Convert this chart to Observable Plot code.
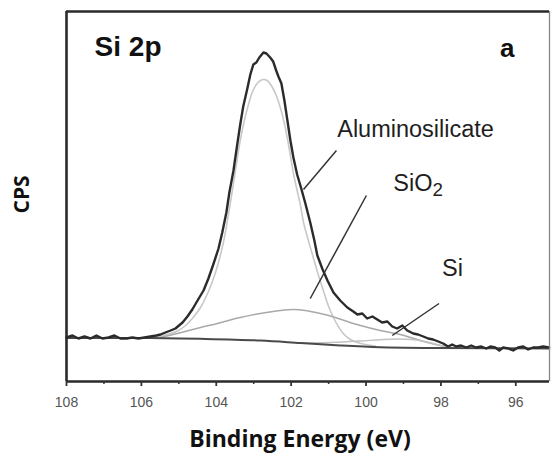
<!DOCTYPE html>
<html>
<head>
<meta charset="utf-8">
<script src="https://cdn.jsdelivr.net/npm/d3@7"></script>
<script src="https://cdn.jsdelivr.net/npm/@observablehq/plot@0.6"></script>
<style>
  html, body { margin: 0; padding: 0; background: #fff; }
  #chart svg { display: block; }
  g[aria-label="x-axis tick label"] text { fill: #555; }
</style>
</head>
<body>
<div id="chart"></div>
<script>
// Axis domains and ticks
const energyDomain = [108, 95.1];
const cpsDomain = [0, 37];
const majorTicks = [108, 106, 104, 102, 100, 98, 96];
const minorTicks = [107, 105, 103, 101, 99, 97];

// Measured envelope (raw data): [binding energy (eV), CPS (arb. x1000)]
const envelope = [
  [108.00,4.4],[107.84,4.6],[107.68,4.3],[107.52,4.5],[107.36,4.3],[107.20,4.6],[107.04,4.3],
  [106.88,4.4],[106.72,4.6],[106.56,4.3],[106.40,4.3],[106.24,4.4],[106.08,4.3],[105.92,4.4],
  [105.76,4.5],[105.60,4.6],[105.49,4.7],[105.36,4.9],[105.22,5.1],[105.09,5.3],[104.90,5.9],
  [104.77,6.5],[104.64,7.2],[104.50,8.1],[104.34,9.1],[104.21,10.3],[104.08,11.7],[103.94,13.3],
  [103.84,14.9],[103.73,16.9],[103.65,18.9],[103.54,21.1],[103.44,23.7],[103.36,25.7],[103.28,27.5],
  [103.17,29.3],[103.09,30.7],[103.01,31.7],[102.93,31.9],[102.85,32.4],[102.74,32.9],[102.66,32.8],
  [102.56,32.4],[102.48,32.0],[102.40,31.1],[102.34,30.5],[102.26,29.8],[102.18,28.1],[102.10,26.1],
  [102.02,24.1],[101.94,22.4],[101.84,20.7],[101.73,19.3],[101.62,17.8],[101.49,15.9],[101.38,14.1],
  [101.30,12.6],[101.17,11.3],[101.03,10.1],[100.87,8.9],[100.69,8.1],[100.50,7.4],[100.34,7.0],
  [100.23,6.7],[100.10,6.8],[99.97,6.3],[99.83,6.5],[99.70,6.2],[99.57,5.9],[99.43,6.0],[99.30,5.5],
  [99.17,5.3],[99.03,5.6],[98.90,5.1],[98.74,4.8],[98.61,4.7],[98.47,4.5],[98.34,4.3],[98.21,4.2],
  [98.07,4.0],[97.94,3.8],[97.81,3.5],[97.70,3.7],[97.59,3.5],[97.46,3.6],[97.32,3.4],[97.19,3.6],
  [97.06,3.4],[96.92,3.5],[96.79,3.3],[96.68,3.5],[96.55,3.4],[96.44,3.1],[96.34,3.4],[96.20,3.3],
  [96.07,3.1],[95.94,3.4],[95.80,3.5],[95.67,3.2],[95.54,3.4],[95.40,3.4],[95.27,3.5],[95.11,3.4]
];

// Fitted components
const aluminosilicate = [
  [105.76,4.4],[105.49,4.55],[105.22,4.8],[105.01,5.1],[104.82,5.6],[104.64,6.3],[104.42,7.4],
  [104.21,9.0],[104.02,10.9],[103.81,13.9],[103.68,16.6],[103.57,19.1],[103.46,21.8],[103.36,24.1],
  [103.25,26.1],[103.14,27.7],[103.04,28.9],[102.93,29.7],[102.82,30.1],[102.74,30.2],[102.64,30.1],
  [102.53,29.6],[102.42,28.8],[102.29,27.4],[102.18,25.8],[102.10,24.3],[102.02,22.6],[101.94,20.8],
  [101.84,19.1],[101.75,17.6],[101.67,15.9],[101.54,14.1],[101.41,12.4],[101.27,10.6],[101.14,9.1],
  [101.01,7.6],[100.87,6.4],[100.74,5.5],[100.61,4.8],[100.42,4.2],[100.23,3.9],[100.02,3.7],[99.75,3.55]
];
const sio2 = [
  [105.49,4.4],[105.04,4.8],[104.42,5.4],[103.97,5.8],[103.36,6.4],[102.82,6.8],[102.29,7.1],
  [101.94,7.2],[101.62,7.1],[101.22,6.8],[100.82,6.4],[100.50,6.0],[100.15,5.6],[99.62,5.1],
  [99.09,4.7],[98.55,4.1],[98.02,3.6],[97.62,3.35]
];
const si = [
  [101.75,3.85],[100.95,3.9],[100.15,4.05],[99.62,4.18],[99.17,4.25],[98.77,4.2],[98.42,4.0],
  [98.15,3.75],[97.89,3.5],[97.62,3.35]
];
const shirley = [
  [108.00,4.35],[105.76,4.35],[104.42,4.27],[102.82,4.1],[101.75,3.85],[100.69,3.6],[99.62,3.42],
  [98.02,3.35],[95.11,3.3]
];

// Annotations: label, text position, leader line [x1,y1,x2,y2]
const labels = [
  {text: "Aluminosilicate", x: 100.77, y: 25.25},
  {text: "SiO2", x: 99.27, y: 19.8},
  {text: "Si", x: 97.97, y: 11.33}
];
const leaders = [
  {x1: 100.79, y1: 23.1, x2: 101.67, y2: 19.2},
  {x1: 99.99, y1: 18.6, x2: 101.49, y2: 8.3},
  {x1: 98.05, y1: 7.8, x2: 99.30, y2: 4.6}
];
const panelTitle = {text: "Si 2p", x: 107.25, y: 33.43};
const panelLetter = {text: "a", x: 96.23, y: 33.3};

const chart = Plot.plot({
  width: 552,
  height: 459,
  marginLeft: 66,
  marginRight: 3,
  marginTop: 11,
  marginBottom: 78,
  style: {background: "#fff", fontFamily: "'Liberation Sans', Arial, sans-serif"},
  x: {domain: energyDomain, axis: null},
  y: {domain: cpsDomain, axis: null},
  marks: [
    // components
    Plot.line(aluminosilicate, {x: d => d[0], y: d => d[1], stroke: "#c8c8c8", strokeWidth: 1.6, curve: "catmull-rom"}),
    Plot.line(sio2, {x: d => d[0], y: d => d[1], stroke: "#a9a9a9", strokeWidth: 1.6, curve: "catmull-rom"}),
    Plot.line(si, {x: d => d[0], y: d => d[1], stroke: "#c2c2c2", strokeWidth: 1.4, curve: "catmull-rom"}),
    Plot.line(shirley, {x: d => d[0], y: d => d[1], stroke: "#4a4a4a", strokeWidth: 2, curve: "catmull-rom"}),
    Plot.line(envelope, {x: d => d[0], y: d => d[1], stroke: "#2b2b2b", strokeWidth: 2.4, strokeLinejoin: "round"}),
    // leader lines
    Plot.link(leaders, {x1: "x1", y1: "y1", x2: "x2", y2: "y2", stroke: "#333", strokeWidth: 1.5}),
    // annotation labels
    Plot.text(labels, {x: "x", y: "y", text: "text", textAnchor: "start", fontSize: 23.5, fill: "#1e1e1e"}),
    Plot.text([panelTitle], {x: "x", y: "y", text: "text", textAnchor: "start", fontSize: 28, fontWeight: "bold", fill: "#111"}),
    Plot.text([panelLetter], {x: "x", y: "y", text: "text", textAnchor: "middle", fontSize: 26, fontWeight: "bold", fill: "#111"}),
    // frame
    Plot.ruleX([energyDomain[0]], {stroke: "#2a2a2a", strokeWidth: 2.6}),
    Plot.ruleX([energyDomain[1]], {stroke: "#888", strokeWidth: 1.3}),
    Plot.ruleY([cpsDomain[1]], {stroke: "#2a2a2a", strokeWidth: 2.6}),
    Plot.ruleY([cpsDomain[0]], {stroke: "#2a2a2a", strokeWidth: 2.6}),
    // axes
    Plot.axisX(majorTicks, {anchor: "bottom", tickSize: 5, tickPadding: 11, strokeWidth: 1.8, stroke: "#333",
      fontSize: 14, fontFamily: "'Liberation Sans Narrow', 'Arial Narrow', sans-serif", label: null}),
    Plot.axisX(minorTicks, {anchor: "bottom", tickSize: 3, strokeWidth: 1.5, stroke: "#333", tickFormat: () => "", label: null}),
    // axis titles
    Plot.text(["Binding Energy (eV)"], {frameAnchor: "bottom", dy: 65.5, dx: -8, fontSize: 23, fontWeight: "bold",
      fontFamily: "'Open Sans', sans-serif", fill: "#111"}),
    Plot.text(["CPS"], {frameAnchor: "left", dx: -44, dy: 17, rotate: -90, fontSize: 21, fontWeight: "bold",
      fontFamily: "'Open Sans', sans-serif", fill: "#111"})
  ]
});

// subscript for SiO2
d3.select(chart).selectAll("text").each(function() {
  if (this.textContent === "SiO2") {
    const t = d3.select(this);
    t.text("SiO");
    t.append("tspan").attr("dy", "0.28em").attr("font-size", "0.8em").text("2");
  }
});

document.getElementById("chart").appendChild(chart);
</script>
</body>
</html>
